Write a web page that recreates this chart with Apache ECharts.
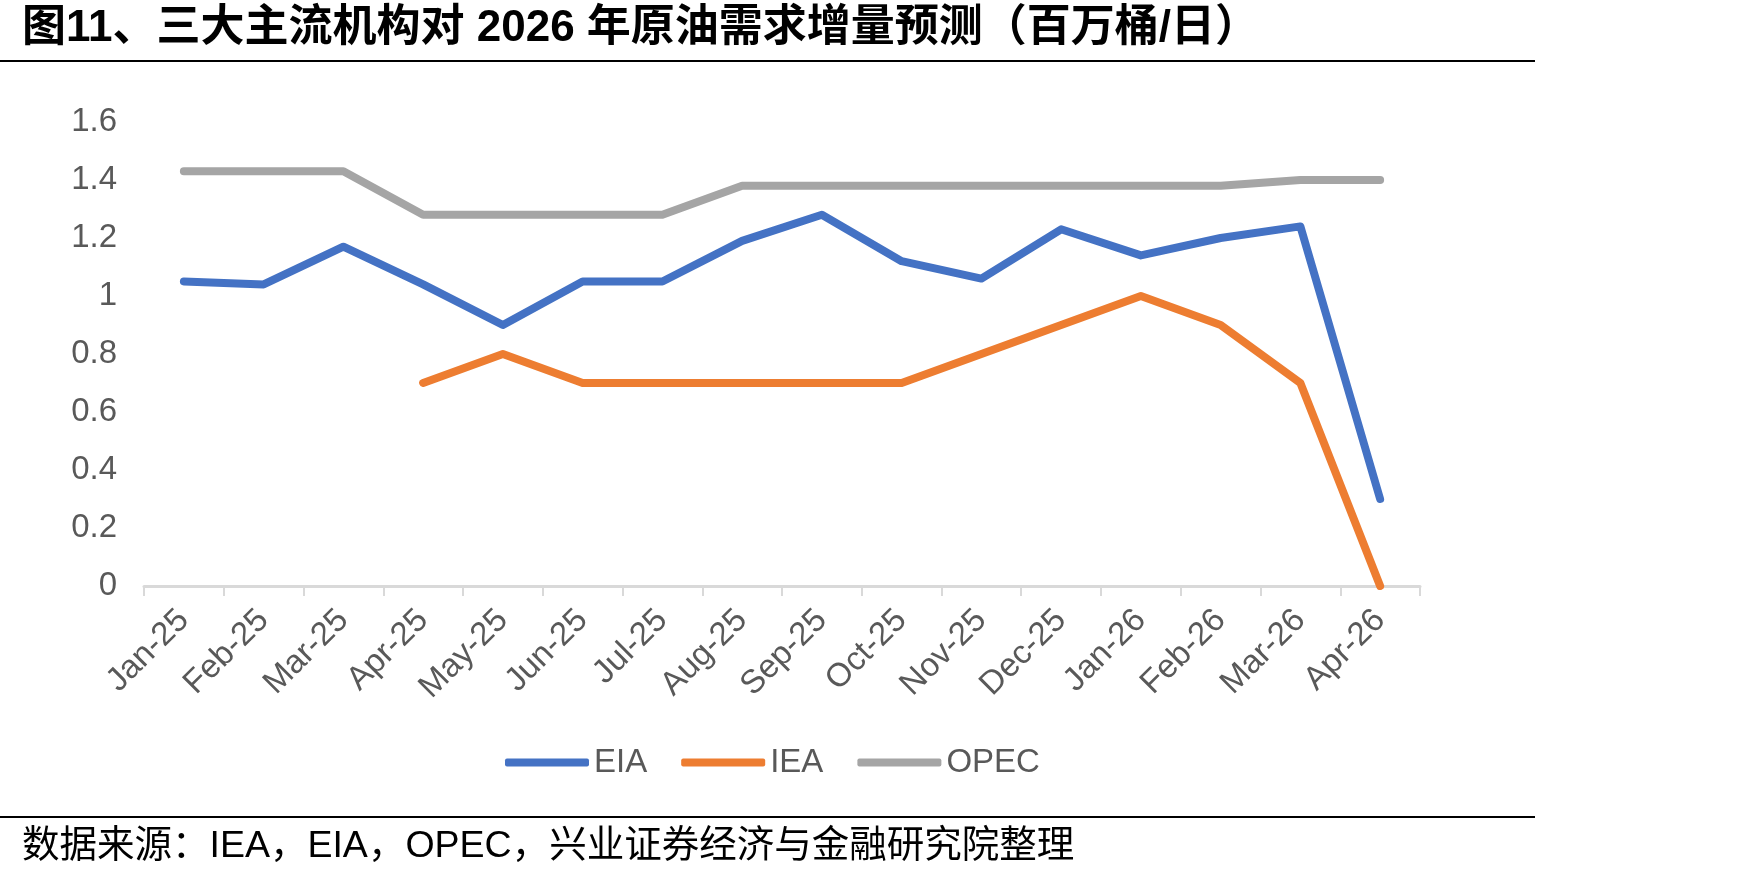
<!DOCTYPE html>
<html>
<head>
<meta charset="utf-8">
<script src="https://cdn.jsdelivr.net/npm/echarts@6/dist/echarts.min.js"></script>
<style>
html,body{margin:0;padding:0;background:#fff;}
#chart{width:1748px;height:878px;}
</style>
</head>
<body>
<div id="chart"></div>
<script>
const categories = ['Jan-25','Feb-25','Mar-25','Apr-25','May-25','Jun-25','Jul-25','Aug-25','Sep-25','Oct-25','Nov-25','Dec-25','Jan-26','Feb-26','Mar-26','Apr-26'];
const eia  = [1.05, 1.04, 1.17, 1.04, 0.90, 1.05, 1.05, 1.19, 1.28, 1.12, 1.06, 1.23, 1.14, 1.20, 1.24, 0.30];
const iea  = [null, null, null, 0.70, 0.80, 0.70, 0.70, 0.70, 0.70, 0.70, 0.80, 0.90, 1.00, 0.90, 0.70, 0.00];
const opec = [1.43, 1.43, 1.43, 1.28, 1.28, 1.28, 1.28, 1.38, 1.38, 1.38, 1.38, 1.38, 1.38, 1.38, 1.40, 1.40];
const seriesNames = ['EIA', 'IEA', 'OPEC'];
const colors = ['#4472C4', '#ED7D31', '#A5A5A5'];
const titleText = '图11、三大主流机构对 2026 年原油需求增量预测（百万桶/日）';
const sourceText = '数据来源：IEA，EIA，OPEC，兴业证券经济与金融研究院整理';

const FONT = "'Liberation Sans', Arial, 'Noto Sans CJK SC', sans-serif";
const chart = echarts.init(document.getElementById('chart'), null, {renderer: 'canvas'});

function mkSeries(name, data, color) {
  return {
    name: name, type: 'line', data: data, color: color,
    symbol: 'none', showSymbol: false, connectNulls: false,
    lineStyle: {width: 8, color: color, cap: 'round', join: 'round'},
    emphasis: {disabled: true}, animation: false
  };
}

chart.setOption({
  animation: false,
  backgroundColor: '#ffffff',
  grid: {left: 144, right: 328, top: 122, bottom: 292, containLabel: false},
  legend: {
    data: seriesNames, left: 500, top: 741,
    icon: 'roundRect', itemWidth: 84, itemHeight: 8, itemGap: 34,
    textStyle: {fontSize: 33, color: '#595959', fontFamily: FONT}
  },
  xAxis: {
    type: 'category', data: categories, boundaryGap: true,
    axisLine: {show: true, lineStyle: {color: '#d9d9d9', width: 3}},
    axisTick: {show: true, length: 10, lineStyle: {color: '#d9d9d9', width: 2}},
    axisLabel: {rotate: 45, interval: 0, margin: 29, fontSize: 33, color: '#595959', fontFamily: FONT},
    splitLine: {show: false}
  },
  yAxis: {
    type: 'value', min: 0, max: 1.6, interval: 0.2,
    axisLine: {show: false}, axisTick: {show: false}, splitLine: {show: false},
    axisLabel: {margin: 27, fontSize: 33, color: '#595959', fontFamily: FONT}
  },
  series: [
    mkSeries(seriesNames[0], eia, colors[0]),
    mkSeries(seriesNames[1], iea, colors[1]),
    mkSeries(seriesNames[2], opec, colors[2])
  ],
  graphic: [
    {type: 'text', left: 22, top: 7, style: {text: titleText, font: "bold 44px " + FONT, fill: '#000'}},
    {type: 'rect', shape: {x: 0, y: 60, width: 1535, height: 2}, style: {fill: '#000'}},
    {type: 'rect', shape: {x: 0, y: 816, width: 1535, height: 2}, style: {fill: '#000'}},
    {type: 'text', left: 22, top: 828, style: {text: sourceText, font: "37.5px " + FONT, fill: '#000'}}
  ]
});
</script>
</body>
</html>
